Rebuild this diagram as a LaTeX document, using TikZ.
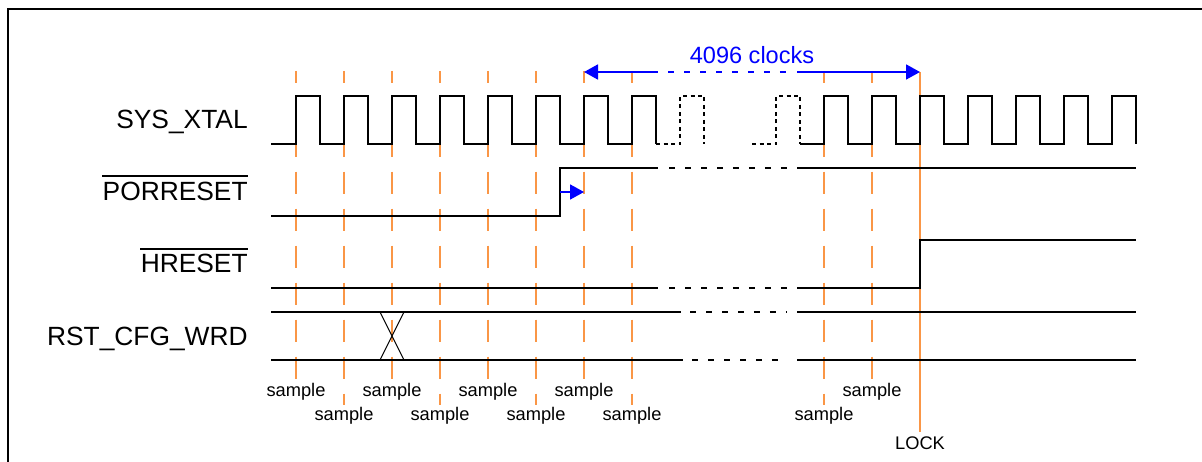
\documentclass[tikz,border=0pt]{standalone}
\usepackage{fontspec}
\setmainfont{Liberation Sans}
\usepackage{tikz}
\usetikzlibrary{arrows.meta}
\definecolor{smporange}{RGB}{250,150,70}
\definecolor{clkblue}{RGB}{0,0,255}

\begin{document}
\begin{tikzpicture}[x=0.02cm, y=-0.02cm,
    sig/.style={line width=0.036cm},
    dashsig/.style={sig, dash pattern=on 0.12cm off 0.2cm},
    dotclk/.style={sig, dash pattern=on 0.08cm off 0.07cm},
    smp/.style={line width=0.036cm, smporange, dash pattern=on 0.44cm off 0.3cm, dash phase=0.206cm},
    lbl/.style={anchor=base east, inner sep=0pt, font=\fontsize{15}{18}\selectfont},
    smplbl/.style={anchor=base, inner sep=0.6pt, font=\fontsize{10.4}{12}\selectfont},
    brr/.style={clkblue, line width=0.036cm},
    bluehead/.style={-{Triangle[length=0.28cm,width=0.3cm]}}]
      \useasboundingbox (0,0) rectangle (1202,462);
      \draw[line width=0.04cm] (8,462) -- (8,9) -- (1202,9);

      % signal names
      \node[lbl] (sysxtal)  at (248,129) {SYS\_XTAL};
      \node[lbl] (porreset) at (248,201) {PORRESET};
      \node[lbl] (hreset)   at (248,273) {HRESET};
      \node[lbl] (rstcfg)   at (248,345) {RST\_CFG\_WRD};
      \draw[line width=0.035cm] ([yshift=0.12cm]porreset.north west) -- ([yshift=0.12cm]porreset.north east);
      \draw[line width=0.035cm] ([yshift=0.11cm]hreset.north west) -- ([yshift=0.11cm]hreset.north east);

      % sample points
      \foreach \sx/\sy [count=\i] in {296/396,344/420,392/396,440/420,488/396,
                                      536/420,584/396,632/420,824/420,872/396} {
        \node[smplbl] (smp\i) at (\sx,\sy) {sample};
        \draw[smp] (\sx,71) -- (smp\i.north);
      }
      \node[smplbl, inner sep=2pt] (lock) at (920,449) {LOCK};
      \coordinate (cntL) at (584,72);
      \coordinate (cntR) at (920,72);
      \draw[line width=0.036cm, smporange] (cntR) -- (lock.north);

      % SYS_XTAL
      \draw[sig] (271,144) foreach \k in {0,...,7} {-- (296+48*\k,144) -- (296+48*\k,96)
                 -- (320+48*\k,96) -- (320+48*\k,144)};
      \draw[dotclk] (656,144) -- (680,144) -- (680,96) -- (704,96) -- (704,144)
                    (752,144) -- (776,144) -- (776,96) -- (800,96) -- (800,144);
      \draw[sig] (800,144) foreach \k in {0,...,6} {-- (824+48*\k,144) -- (824+48*\k,96)
                 -- (848+48*\k,96) -- (848+48*\k,144)};

      % PORRESET
      \draw[sig] (271,216) -- (560,216) -- (560,168) -- (658,168);
      \draw[dashsig] (669,168) -- (787,168);
      \draw[sig] (797,168) -- (1136,168);

      % HRESET
      \draw[sig] (271,288) -- (658,288);
      \draw[dashsig] (669,288) -- (787,288);
      \draw[sig] (797,288) -- (920,288) -- (920,240) -- (1136,240);

      % RST_CFG_WRD
      \draw[sig] (271,312) -- (681,312);
      \draw[dashsig] (690,312) -- (787,312);
      \draw[sig] (797,312) -- (1136,312);
      \draw[sig] (271,360) -- (683,360);
      \draw[dashsig] (692,360) -- (787,360);
      \draw[sig] (797,360) -- (1136,360);
      \draw[line width=0.02cm] (380,312) -- (404,360) (404,312) -- (380,360);

      % delays
      \coordinate (porRise) at (560,192);
      \coordinate (porSmp)  at (584,192);
      \draw[brr, bluehead] (porRise) -- (porSmp);
      \draw[brr, {Triangle[length=0.28cm,width=0.3cm]}-] (cntL) -- (658,72);
      \draw[brr, dash pattern=on 0.12cm off 0.2cm] (668,72) -- (787,72);
      \draw[brr, bluehead] (797,72) -- (cntR);
      \node[anchor=base, inner sep=0pt, text=clkblue, font=\fontsize{13.4}{16}\selectfont]
           (cnt) at (752,64) {4096 clocks};
    \end{tikzpicture}
\end{document}
